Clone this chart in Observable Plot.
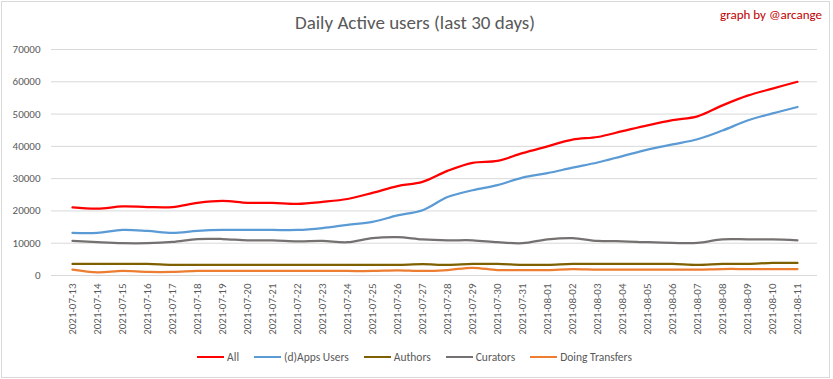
<!DOCTYPE html>
<html>
<head>
<meta charset="utf-8">
<script src="https://cdn.jsdelivr.net/npm/d3@7"></script>
<script src="https://cdn.jsdelivr.net/npm/@observablehq/plot@0.6"></script>
<style>
  html, body { margin: 0; padding: 0; background: #fff; }
  #wrap { position: relative; width: 833px; height: 379px; overflow: hidden; background: #fff;
          font-family: Carlito, Calibri, Lato, sans-serif; }
  #border { position: absolute; left: 1px; top: 1px; width: 829px; height: 377px; box-sizing: border-box;
            border: 1px solid #d9d9d9; pointer-events: none; }
  #title { position: absolute; left: 0; top: 11px; width: 830px; text-align: center;
           font-size: 19px; color: #595959; line-height: 24px; }
  #credit { position: absolute; right: 11px; top: 6px; font-size: 13px; color: #c00000; line-height: 18px; }
  #plot { position: absolute; left: 0; top: 0; }
  #legend { position: absolute; left: 0; top: 349px; width: 829px; display: flex; justify-content: center;
            gap: 15px; font-size: 11.5px; color: #595959; line-height: 16px; }
  .item { display: flex; align-items: center; gap: 3px; }
  .swatch { width: 27px; height: 2.5px; }
</style>
</head>
<body>
<div id="wrap">
  <div id="plot"></div>
  <div id="title">Daily Active users (last 30 days)</div>
  <div id="credit">graph by @arcange</div>
  <div id="legend"></div>
  <div id="border"></div>
</div>
<script>
const dates = ["2021-07-13","2021-07-14","2021-07-15","2021-07-16","2021-07-17","2021-07-18","2021-07-19","2021-07-20","2021-07-21","2021-07-22","2021-07-23","2021-07-24","2021-07-25","2021-07-26","2021-07-27","2021-07-28","2021-07-29","2021-07-30","2021-07-31","2021-08-01","2021-08-02","2021-08-03","2021-08-04","2021-08-05","2021-08-06","2021-08-07","2021-08-08","2021-08-09","2021-08-10","2021-08-11"];

const allUsers = [21100,20700,21400,21200,21200,22500,23100,22500,22500,22200,22800,23700,25600,27700,29000,32400,34900,35500,37900,40000,42100,42900,44700,46500,48100,49300,52700,55700,57900,60000];
const appsUsers = [13200,13200,14100,13800,13200,13800,14100,14100,14100,14100,14700,15700,16600,18600,20200,24300,26400,28000,30300,31700,33400,35000,37000,39000,40600,42200,44900,48000,50200,52200];
const authors = [3600,3600,3600,3600,3300,3300,3300,3300,3300,3300,3300,3300,3300,3300,3500,3300,3600,3600,3300,3300,3600,3600,3600,3600,3600,3300,3600,3600,3900,3900];
const curators = [10700,10300,10000,10000,10400,11300,11300,10900,10900,10600,10700,10300,11600,11900,11200,10900,10900,10300,10000,11200,11600,10700,10600,10300,10100,10100,11200,11200,11200,10900];
const doingTransfers = [1850,1000,1400,1100,1100,1400,1400,1400,1400,1400,1400,1400,1400,1600,1400,1700,2400,1700,1700,1700,2000,1800,1800,1800,1800,1800,2000,2000,2000,2000];

const seriesNames = ["All", "(d)Apps Users", "Authors", "Curators", "Doing Transfers"];
const seriesValues = [allUsers, appsUsers, authors, curators, doingTransfers];
const seriesColors = ["#ff0000", "#5b9bd5", "#7f6000", "#767171", "#ed7d31"];
const yTicks = [0, 10000, 20000, 30000, 40000, 50000, 60000, 70000];

const data = seriesNames.flatMap((name, s) =>
  dates.map((date, i) => ({series: name, date, value: seriesValues[s][i]})));

const font = "Carlito, Calibri, Lato, sans-serif";

const chart = Plot.plot({
  width: 833,
  height: 379,
  marginTop: 49,
  marginBottom: 104,
  marginLeft: 51,
  marginRight: 16,
  style: {fontFamily: font, background: "transparent", overflow: "visible"},
  x: {type: "point", domain: dates, padding: 0.5},
  y: {domain: [0, 70000]},
  color: {domain: seriesNames, range: seriesColors},
  marks: [
    Plot.ruleY(yTicks, {stroke: "#d9d9d9", strokeWidth: 1}),
    Plot.axisY({ticks: yTicks, tickSize: 0, tickPadding: 11, tickFormat: d => String(d),
                fontSize: 11, color: "#595959", label: null}),
    Plot.axisX({tickRotate: -90, tickSize: 0, tickPadding: 8, fontSize: 11,
                color: "#595959", label: null}),
    Plot.line(data, {x: "date", y: "value", z: "series", stroke: "series",
                     strokeWidth: 2.25, curve: "catmull-rom"})
  ]
});
document.getElementById("plot").appendChild(chart);

const legend = document.getElementById("legend");
seriesNames.forEach((name, i) => {
  const item = document.createElement("div");
  item.className = "item";
  const sw = document.createElement("div");
  sw.className = "swatch";
  sw.style.background = seriesColors[i];
  const label = document.createElement("span");
  label.textContent = name;
  item.appendChild(sw);
  item.appendChild(label);
  legend.appendChild(item);
});
</script>
</body>
</html>
